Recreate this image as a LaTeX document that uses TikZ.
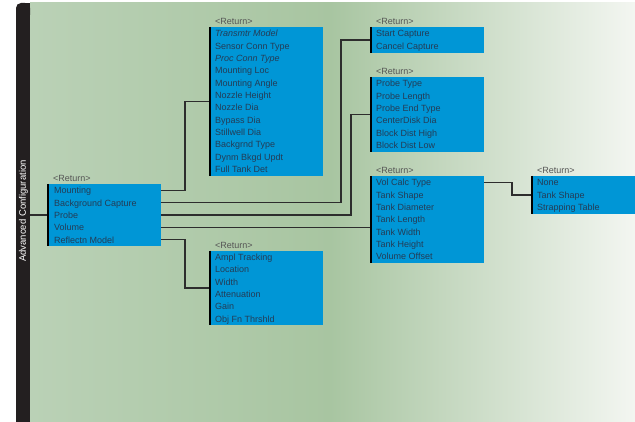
\documentclass[tikz,border=0pt]{standalone}
\usepackage{fontspec}
\setmainfont{Liberation Sans}
\usetikzlibrary{calc}

\definecolor{menublue}{RGB}{0,150,214}
\definecolor{itemtext}{RGB}{36,60,86}
\definecolor{retgray}{RGB}{85,85,85}
\definecolor{linkgray}{RGB}{45,45,45}
\definecolor{barblack}{RGB}{35,31,32}
\definecolor{bgA}{RGB}{186,209,182}
\definecolor{bgB}{RGB}{168,197,161}
\definecolor{bgC}{RGB}{243,246,241}

\tikzset{
  menu/.style={fill=menublue, anchor=north west, minimum width=114pt, inner sep=0pt},
  item/.style={anchor=west, inner sep=0pt, text height=6.6pt, text depth=0pt,
    text=itemtext, font=\fontsize{9}{10}\selectfont},
  ret/.style={anchor=base west, inner sep=0pt, text=retgray, font=\fontsize{9}{10}\selectfont},
  spine/.style={draw=black, line width=1.8pt},
  link/.style={draw=linkgray, line width=1.3pt}
}

\begin{document}
\begin{tikzpicture}[x=1pt, y=-1pt]
			\useasboundingbox (0,0) rectangle (635,422);
			
			% Background panel and side bar
			\fill[white] (0,0) rectangle (635,422);
			\shade[left color=bgA, right color=bgB] (30,3) rectangle (330.5,422);
			\shade[left color=bgB, right color=bgC] (330,3) rectangle (635,422);
			\fill[barblack] (16,12) rectangle (30,422);
			\fill[barblack, rounded corners=5pt] (16,3) rectangle (30,20);
			\fill[barblack] (23,3) rectangle (30,12);
			\node[rotate=90, text=white, inner sep=0pt, font=\fontsize{9.5}{10}\selectfont] (side) at (23.5,211) {Advanced Configuration};
			\coordinate (barR) at (30,215);
			
			% Menu boxes
			\node[menu, minimum height={5*12.35+0.3}] (main) at (47,184) {};
			\node[menu, minimum height={12*12.35+0.3}] (tx) at (209,27) {};
			\node[menu, minimum height={6*12.35+0.3}] (ampl) at (209,250.7) {};
			\node[menu, minimum height={2*12.35+0.8}] (cap) at (370,27) {};
			\node[menu, minimum height={6*12.35+0.3}] (probe) at (370,77) {};
			\node[menu, minimum height={7*12.35+0.3}] (vol) at (370,176) {};
			\node[menu, minimum height={3*12.35+0.3}, minimum width=104pt] (none) at (531,176) {};
			
			% Return labels and dark left edges
			\foreach \b in {main,tx,ampl,cap,probe,vol,none} {
				\draw[spine] ([xshift=.9pt]\b.north west) -- ([xshift=.9pt]\b.south west);
				\node[ret] at ([xshift=6pt,yshift=2pt]\b.north west) {<Return>};
			}
			
			% Menu entries
			\foreach \t [count=\i] in {Mounting, Background Capture, Probe, Volume, Reflectn Model}
				\node[item] (m\i) at ($(main.north west)+(7,{6.4+12.35*(\i-1)})$) {\t};
			\foreach \t [count=\i] in {{\itshape Transmtr Model}, Sensor Conn Type, {\itshape Proc Conn Type}, Mounting Loc, Mounting Angle, Nozzle Height, Nozzle Dia, Bypass Dia, Stillwell Dia, Backgrnd Type, Dynm Bkgd Updt, Full Tank Det}
				\node[item] (tx\i) at ($(tx.north west)+(6,{6.4+12.35*(\i-1)})$) {\t};
			\foreach \t [count=\i] in {Ampl Tracking, Location, Width, Attenuation, Gain, Obj Fn Thrshld}
				\node[item] (a\i) at ($(ampl.north west)+(6,{6.4+12.35*(\i-1)})$) {\t};
			\foreach \t [count=\i] in {Start Capture, Cancel Capture}
				\node[item] (c\i) at ($(cap.north west)+(6,{6.6+12.35*(\i-1)})$) {\t};
			\foreach \t [count=\i] in {Probe Type, Probe Length, Probe End Type, CenterDisk Dia, Block Dist High, Block Dist Low}
				\node[item] (p\i) at ($(probe.north west)+(6,{6.6+12.35*(\i-1)})$) {\t};
			\foreach \t [count=\i] in {Vol Calc Type, Tank Shape, Tank Diameter, Tank Length, Tank Width, Tank Height, Volume Offset}
				\node[item] (v\i) at ($(vol.north west)+(6,{6.6+12.35*(\i-1)})$) {\t};
			\foreach \t [count=\i] in {None, Tank Shape, Strapping Table}
				\node[item] (n\i) at ($(none.north west)+(6,{6.6+12.35*(\i-1)})$) {\t};
			
			% Connectors
			\draw[link] (barR |- m3) -- (main.west |- m3);
			\draw[link] (main.east |- m1) -| ([xshift=-24pt]tx.west) -- (tx.west);
			\draw[link] (main.east |- m2) -| ([xshift=-29pt]cap.west) -- (cap.west);
			\draw[link] (main.east |- m3) -| ([xshift=-19pt]probe.west) -- (probe.west);
			\draw[link] (main.east |- m4) -- (vol.west |- m4);
			\draw[link] (main.east |- m5) -| ([xshift=-24pt]ampl.west) -- (ampl.west);
			\draw[link] (vol.east |- v1) -| ([xshift=-19pt]none.west) -- (none.west);
		\end{tikzpicture}
\end{document}
